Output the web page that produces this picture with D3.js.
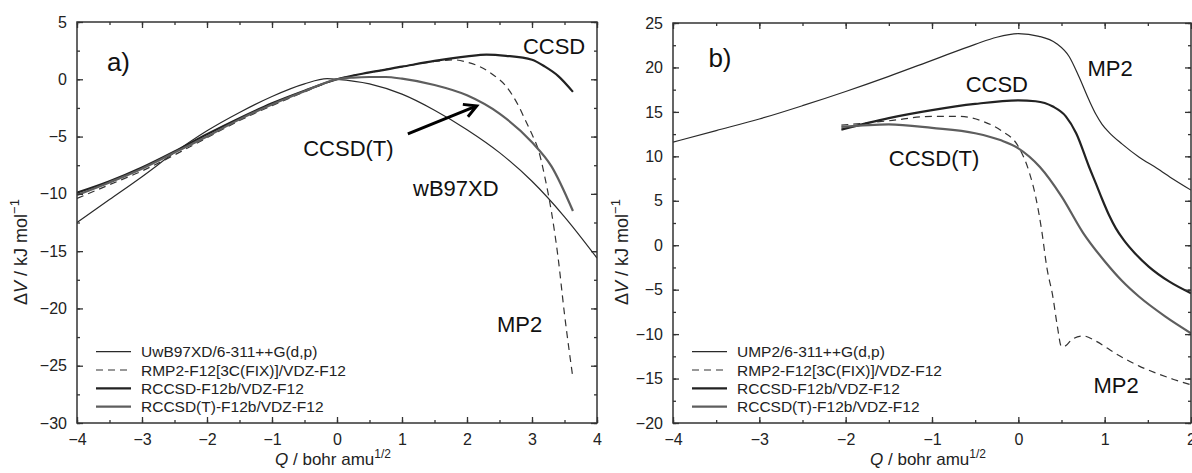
<!DOCTYPE html>
<html lang="en">
<head>
<meta charset="UTF-8">
<title>dV scans</title>
<script src="https://d3js.org/d3.v7.min.js"></script>
<style>
  body { margin: 0; background: #fff; }
  text { font-family: "Liberation Sans", Arial, sans-serif; }
</style>
</head>
<body>
<script>
// panel a) : Q / bohr amu^1/2 , dV / kJ mol-1
var aWB97XD = [[-4,-12.5],[-3.5,-10.5],[-3,-8.5],[-2.5,-6.4],[-2,-4.5],[-1.5,-2.9],[-1,-1.5],[-0.5,-0.4],[-0.15,0.05],[0,0],
  [0.5,-0.4],[1,-1.3],[1.5,-2.7],[2,-4.4],[2.5,-6.4],[3,-8.9],[3.5,-12.0],[4,-15.6]];
var aMP2 = [[-4,-10.4],[-3.5,-9.2],[-3,-8.0],[-2.5,-6.6],[-2,-5.1],[-1.5,-3.6],[-1,-2.3],[-0.5,-1.1],[0,0],
  [0.5,0.6],[1,1.1],[1.5,1.55],[1.8,1.7],[2,1.5],[2.2,1.1],[2.4,0.4],[2.6,-0.6],[2.8,-2.4],[2.9,-3.6],
  [3.0,-4.8],[3.1,-6.2],[3.2,-8.6],[3.3,-11.6],[3.4,-15.5],[3.5,-20.5],[3.63,-26.1]];
var aCCSD = [[-4,-9.9],[-3.5,-8.9],[-3,-7.7],[-2.5,-6.3],[-2,-4.8],[-1.5,-3.4],[-1,-2.1],[-0.5,-1.0],[0,0],
  [0.5,0.6],[1,1.1],[1.5,1.6],[2,2.0],[2.3,2.15],[2.6,2.05],[3,1.7],[3.2,1.1],[3.4,0.3],[3.63,-1.1]];
var aCCSDT = [[-4,-10.1],[-3.5,-9.0],[-3,-7.8],[-2.5,-6.4],[-2,-5.0],[-1.5,-3.5],[-1,-2.2],[-0.5,-1.05],[0,0],
  [0.25,0.15],[0.5,0.2],[0.75,0.2],[1,0.05],[1.5,-0.5],[2,-1.4],[2.5,-3.0],[3,-5.5],[3.3,-7.6],[3.63,-11.5]];

// panel b)
var bUMP2 = [[-4,11.6],[-3.5,12.9],[-3,14.2],[-2.5,15.7],[-2,17.3],[-1.5,19.0],[-1,20.8],[-0.5,22.6],[-0.25,23.4],[0,23.8],
  [0.24,23.5],[0.44,22.7],[0.59,21.2],[0.7,19.0],[0.82,16.3],[0.9,14.7],[0.97,13.6],[1.05,12.7],[1.2,11.4],
  [1.4,9.9],[1.6,8.7],[1.8,7.4],[2,6.2]];
var bMP2 = [[-2.05,13.5],[-1.5,14.0],[-1,14.5],[-0.7,14.5],[-0.4,13.9],[-0.2,12.9],[0,11.1],[0.13,8.1],[0.2,5.5],
  [0.27,1.7],[0.33,-2.5],[0.4,-5.8],[0.45,-9.0],[0.5,-11.4],[0.55,-11.3],[0.62,-10.6],[0.75,-10.2],[0.9,-10.8],
  [1.13,-12.2],[1.4,-13.6],[1.6,-14.4],[1.8,-15.1],[2,-15.7]];
var bCCSD = [[-2.05,13.0],[-1.5,14.3],[-1,15.2],[-0.5,15.9],[0,16.3],[0.2,16.2],[0.4,15.6],[0.55,14.5],[0.67,12.6],
  [0.82,8.8],[0.9,6.9],[0.97,5.2],[1.05,3.4],[1.13,1.9],[1.22,0.6],[1.35,-0.9],[1.51,-2.4],[1.75,-4.1],[2,-5.4]];
var bCCSDT = [[-2.05,13.3],[-1.5,13.6],[-1,13.2],[-0.5,12.6],[-0.2,11.8],[0,10.9],[0.25,8.8],[0.5,5.5],[0.75,1.4],
  [1.0,-1.8],[1.2,-4.0],[1.4,-5.8],[1.7,-8.0],[2,-9.9]];

var legendA = ["UwB97XD/6-311++G(d,p)", "RMP2-F12[3C(FIX)]/VDZ-F12", "RCCSD-F12b/VDZ-F12", "RCCSD(T)-F12b/VDZ-F12"];
var legendB = ["UMP2/6-311++G(d,p)", "RMP2-F12[3C(FIX)]/VDZ-F12", "RCCSD-F12b/VDZ-F12", "RCCSD(T)-F12b/VDZ-F12"];

var xTicksA = [-4, -3, -2, -1, 0, 1, 2, 3, 4];
var yTicksA = [-30, -25, -20, -15, -10, -5, 0, 5];
var xTicksB = [-4, -3, -2, -1, 0, 1, 2];
var yTicksB = [-20, -15, -10, -5, 0, 5, 10, 15, 20, 25];

// text notes on the curves, [label, Q, dV]
var notesA = [["CCSD", 2.86, 2.2], ["CCSD(T)", -0.52, -6.7], ["wB97XD", 1.17, -10.2], ["MP2", 2.46, -22.1]];
var notesB = [["MP2", 0.80, 19.0], ["CCSD", -0.61, 17.2], ["CCSD(T)", -1.5, 8.9], ["MP2", 0.87, -16.6]];

// one style per series: thin, dashed, CCSD, CCSD(T)
var styles = [
  { stroke: "#2a2a2a", width: 1.2, dash: null },
  { stroke: "#333", width: 1.2, dash: "7,5" },
  { stroke: "#222", width: 2.2, dash: null },
  { stroke: "#5e5e5e", width: 2.2, dash: null }
];

var svg = d3.select("body").append("svg")
  .attr("width", 1192)
  .attr("height", 473);

function minors(lo, hi, step) {
  var out = [];
  for (var v = lo; v <= hi + 1e-9; v += step) out.push(+v.toFixed(3));
  return out;
}

function panel(p) {
  var x = d3.scaleLinear().domain(p.xDomain).range([p.left, p.right]);
  var y = d3.scaleLinear().domain(p.yDomain).range([p.bottom, p.top]);
  var fmt = function (d) { return d3.format("d")(d); };

  var clipId = "clip" + p.name;
  svg.append("clipPath").attr("id", clipId)
    .append("rect")
    .attr("x", p.left).attr("y", p.top)
    .attr("width", p.right - p.left).attr("height", p.bottom - p.top);

  // curves
  var line = d3.line()
    .x(function (d) { return x(d[0]); })
    .y(function (d) { return y(d[1]); })
    .curve(d3.curveMonotoneX);

  var g = svg.append("g").attr("clip-path", "url(#" + clipId + ")");
  p.series.forEach(function (s, i) {
    g.append("path")
      .attr("d", line(s))
      .attr("fill", "none")
      .attr("stroke", styles[i].stroke)
      .attr("stroke-width", styles[i].width)
      .attr("stroke-dasharray", styles[i].dash);
  });

  // axes, ticks inward on all sides
  var xMinor = minors(p.xDomain[0], p.xDomain[1], 0.5);
  var yMinor = minors(p.yDomain[0], p.yDomain[1], 2.5);

  function addAxis(axis, tx, ty) {
    var a = svg.append("g")
      .attr("transform", "translate(" + tx + "," + ty + ")")
      .style("color", "#333")
      .call(axis);
    a.select(".domain").remove();
    a.selectAll("line").attr("stroke-width", 1.3);
    a.selectAll("text")
      .attr("fill", "#222")
      .style("font-size", "16px")
      .style("font-family", "'Liberation Sans', Arial, sans-serif");
    return a;
  }

  addAxis(d3.axisBottom(x).tickValues(p.xTicks).tickFormat(fmt).tickSizeInner(-6).tickSizeOuter(0).tickPadding(11), 0, p.bottom);
  addAxis(d3.axisBottom(x).tickValues(xMinor).tickFormat("").tickSizeInner(-3).tickSizeOuter(0), 0, p.bottom);
  addAxis(d3.axisTop(x).tickValues(p.xTicks).tickFormat("").tickSizeInner(-6).tickSizeOuter(0), 0, p.top);
  addAxis(d3.axisTop(x).tickValues(xMinor).tickFormat("").tickSizeInner(-3).tickSizeOuter(0), 0, p.top);
  addAxis(d3.axisLeft(y).tickValues(p.yTicks).tickFormat(fmt).tickSizeInner(-6).tickSizeOuter(0).tickPadding(10), p.left, 0);
  addAxis(d3.axisLeft(y).tickValues(yMinor).tickFormat("").tickSizeInner(-3).tickSizeOuter(0), p.left, 0);
  addAxis(d3.axisRight(y).tickValues(p.yTicks).tickFormat("").tickSizeInner(-6).tickSizeOuter(0), p.right, 0);
  addAxis(d3.axisRight(y).tickValues(yMinor).tickFormat("").tickSizeInner(-3).tickSizeOuter(0), p.right, 0);

  svg.append("rect")
    .attr("x", p.left).attr("y", p.top)
    .attr("width", p.right - p.left).attr("height", p.bottom - p.top)
    .attr("fill", "none")
    .attr("stroke", "#333")
    .attr("stroke-width", 1.5);

  // axis titles
  var xt = svg.append("text")
    .attr("x", (p.left + p.right) / 2 - 4)
    .attr("y", 465)
    .attr("text-anchor", "middle")
    .style("font-size", "17px")
    .attr("fill", "#222");
  xt.append("tspan").style("font-style", "italic").text("Q");
  xt.append("tspan").text(" / bohr amu");
  xt.append("tspan").attr("dy", -7).style("font-size", "12px").text("1/2");

  var yt = svg.append("text")
    .attr("transform", "translate(" + p.yTitleX + ",252) rotate(-90)")
    .attr("text-anchor", "middle")
    .style("font-size", "18px")
    .attr("fill", "#222");
  yt.append("tspan").text("\u0394");
  yt.append("tspan").style("font-style", "italic").text("V");
  yt.append("tspan").text(" / kJ mol");
  yt.append("tspan").attr("dy", -8).style("font-size", "13px").text("\u22121");

  // legend
  var lg = svg.append("g");
  p.legend.forEach(function (name, i) {
    var ly = 351.7 + i * 18.3;
    lg.append("line")
      .attr("x1", p.left + 19).attr("x2", p.left + 54)
      .attr("y1", ly).attr("y2", ly)
      .attr("stroke", styles[i].stroke)
      .attr("stroke-width", styles[i].width)
      .attr("stroke-dasharray", styles[i].dash);
    lg.append("text")
      .attr("x", p.left + 64).attr("y", ly)
      .attr("dy", "0.36em")
      .style("font-size", "15.5px")
      .attr("fill", "#222")
      .text(name);
  });

  // panel tag and curve notes
  svg.append("text")
    .attr("x", x(p.tag[1])).attr("y", y(p.tag[2]))
    .style("font-size", "26px")
    .attr("fill", "#111")
    .text(p.tag[0]);

  p.notes.forEach(function (n) {
    svg.append("text")
      .attr("x", x(n[1])).attr("y", y(n[2]))
      .style("font-size", "22px")
      .attr("fill", "#111")
      .text(n[0]);
  });

  return { x: x, y: y };
}

var pa = panel({
  name: "A", left: 77, right: 597, top: 22, bottom: 423,
  xDomain: [-4, 4], yDomain: [-30, 5],
  xTicks: xTicksA, yTicks: yTicksA,
  series: [aWB97XD, aMP2, aCCSD, aCCSDT],
  legend: legendA, notes: notesA, tag: ["a)", -3.54, 0.72], yTitleX: 27
});

panel({
  name: "B", left: 673, right: 1191, top: 23, bottom: 423,
  xDomain: [-4, 2], yDomain: [-20, 25],
  xTicks: xTicksB, yTicks: yTicksB,
  series: [bUMP2, bMP2, bCCSD, bCCSDT],
  legend: legendB, notes: notesB, tag: ["b)", -3.59, 20.0], yTitleX: 628
});

// arrow pointing at the CCSD(T) curve in panel a)
var arrowFrom = [1.09, -4.77], arrowTo = [2.15, -2.33];
var ax1 = pa.x(arrowFrom[0]), ay1 = pa.y(arrowFrom[1]);
var ax2 = pa.x(arrowTo[0]), ay2 = pa.y(arrowTo[1]);
var ang = Math.atan2(ay2 - ay1, ax2 - ax1);
var head = 14, spread = 0.5;
svg.append("path")
  .attr("d", "M" + ax1 + "," + ay1 + "L" + ax2 + "," + ay2 +
    "M" + (ax2 - head * Math.cos(ang - spread)) + "," + (ay2 - head * Math.sin(ang - spread)) +
    "L" + ax2 + "," + ay2 +
    "L" + (ax2 - head * Math.cos(ang + spread)) + "," + (ay2 - head * Math.sin(ang + spread)))
  .attr("fill", "none")
  .attr("stroke", "#000")
  .attr("stroke-width", 3)
  .attr("stroke-linejoin", "miter");
</script>
</body>
</html>
